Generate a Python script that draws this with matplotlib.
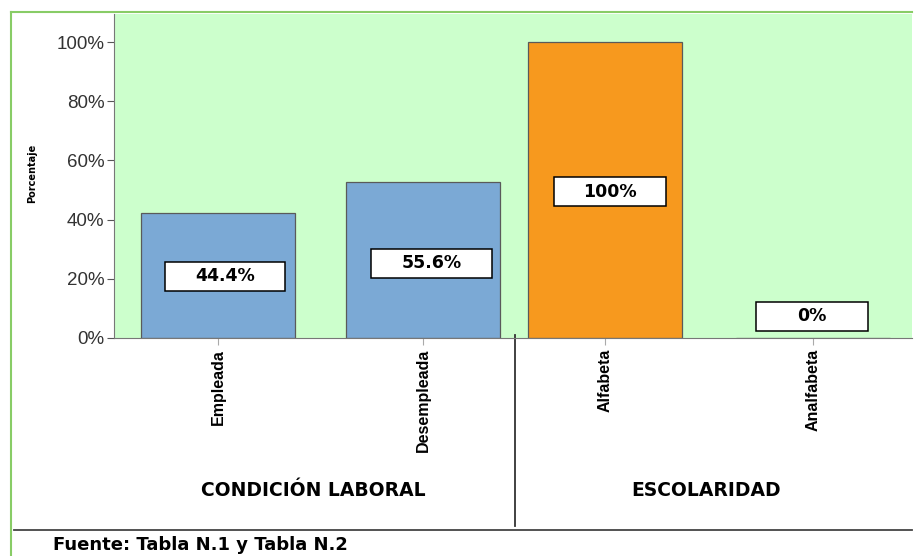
import matplotlib
matplotlib.use("Agg")
import matplotlib.pyplot as plt
from matplotlib.patches import Rectangle
from matplotlib.ticker import PercentFormatter

# data
categorias = ["Empleada", "Desempleada", "Alfabeta", "Analfabeta"]
alturas = [42.2, 52.7, 100.0, 0.0]          # drawn bar heights (%)
etiquetas = ["44.4%", "55.6%", "100%", "0%"]  # printed labels
grupos = ["CONDICIÓN LABORAL", "ESCOLARIDAD"]
colores = ["#7BA9D5", "#7BA9D5", "#F7991E", "#F7991E"]

# layout: bar positions, label box centres / widths
x = [0, 1.034, 1.952, 3.0]
caja_x = [0.035, 1.077, 1.977, 2.995]
caja_y = [20.8, 25.2, 49.5, 7.3]
caja_w = [0.605, 0.61, 0.565, 0.565]

fig = plt.figure(figsize=(9.14, 5.56), dpi=100)
ax = fig.add_axes([114 / 914, 1 - 338 / 556, 798 / 914, 324 / 556])
ax.set_facecolor("#CCFFCC")

ax.bar(x, alturas, width=0.775, color=colores, edgecolor="#5a5a5a", linewidth=0.9, zorder=2)

ax.set_xlim(-0.524, 3.5)
ax.set_ylim(0, 109.5)
ax.set_yticks([0, 20, 40, 60, 80, 100])
ax.yaxis.set_major_formatter(PercentFormatter(decimals=0))
ax.tick_params(axis="y", labelsize=13.5, length=5, color="#555555", labelcolor="#333333", pad=2)
for t in ax.get_yticklabels():
    t.set_family("Liberation Sans")
ax.set_xticks(x)
ax.set_xticklabels(categorias, rotation=90, fontsize=11.5, fontweight="bold",
                   family="Liberation Sans")
ax.tick_params(axis="x", length=5, color="#aaaaaa", pad=3)
for s in ["top", "right"]:
    ax.spines[s].set_visible(False)
ax.spines["left"].set_color("#777777")
ax.spines["bottom"].set_color("#777777")
ax.set_ylabel("Porcentaje", fontsize=7, fontweight="bold")
ax.yaxis.set_label_coords(-0.0965, 0.509)

# value boxes
h = 9.8
for i, lab in enumerate(etiquetas):
    ax.add_patch(Rectangle((caja_x[i] - caja_w[i] / 2, caja_y[i] - h / 2), caja_w[i], h,
                           facecolor="white", edgecolor="black", linewidth=1.1, zorder=3))
    ax.text(caja_x[i], caja_y[i], lab, ha="center", va="center", fontsize=12.5,
            fontweight="bold", zorder=4)

# group labels and separator
ax.text(0.48, -51.5, grupos[0], ha="center", va="center", fontsize=13.5, fontweight="bold",
        clip_on=False)
ax.text(2.46, -51.5, grupos[1], ha="center", va="center", fontsize=13.5, fontweight="bold",
        clip_on=False)
ax.plot([1.498, 1.498], [1, -63.5], color="#333333", lw=1.3, clip_on=False)

# outer frame and footer
fig.add_artist(plt.Line2D([11 / 914, 11 / 914], [0, 1 - 12 / 556], color="#88CC66", lw=1.5))
fig.add_artist(plt.Line2D([11 / 914, 912 / 914], [1 - 12 / 556, 1 - 12 / 556], color="#88CC66", lw=1.5))
fig.add_artist(plt.Line2D([14 / 914, 912 / 914], [1 - 530 / 556, 1 - 530 / 556], color="#444444", lw=1.3))
fig.text(53 / 914, 1 - 545 / 556, "Fuente: Tabla N.1 y Tabla N.2", ha="left", va="center",
         fontsize=13, fontweight="bold")

fig.savefig("out.png", dpi=100)
